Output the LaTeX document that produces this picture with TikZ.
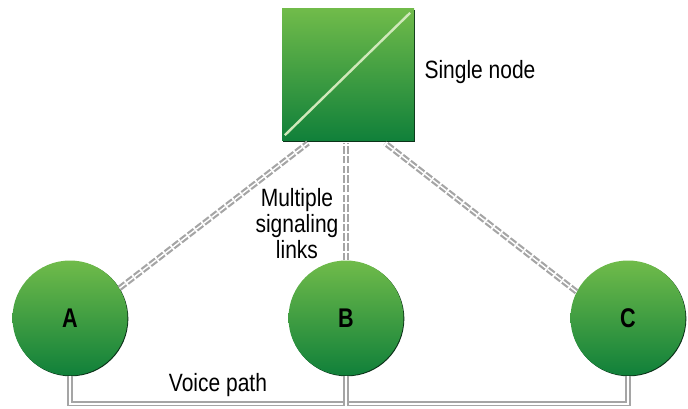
\documentclass[tikz,border=0pt]{standalone}
\usepackage{fontspec}
\setmainfont{Liberation Sans}[FakeStretch=0.84]
\newfontfamily\letterfont{Liberation Sans}[FakeStretch=0.8,BoldFeatures={FakeStretch=0.8}]
\usetikzlibrary{calc,shadows}
\definecolor{gtop}{RGB}{112,187,74}
\definecolor{gbot}{RGB}{16,128,58}
\definecolor{gedge}{RGB}{12,50,25}
\definecolor{linkgray}{RGB}{165,165,165}
\definecolor{diag}{RGB}{208,232,186}
\tikzset{
  x=1pt,y=-1pt,
  station/.style={circle,minimum size=115pt,inner sep=0pt,top color=gtop,bottom color=gbot,
    general shadow={fill=gedge,shadow xshift=.8pt,shadow yshift=-.8pt},
    font=\letterfont\bfseries\fontsize{27}{29}\selectfont,text=black},
  hub/.style={rectangle,minimum size=132pt,inner sep=0pt,top color=gtop,bottom color=gbot,
    general shadow={fill=gedge,shadow xshift=.8pt,shadow yshift=-.8pt}},
  sigline/.style={draw=linkgray,line width=2.2pt,double=white,double distance=1.4pt,dash pattern=on 7.5pt off 2.2pt},
  voice/.style={draw=linkgray,double=white,double distance=1.7pt,line width=1.7pt},
  lbl/.style={font=\fontsize{25}{26}\selectfont,text=black,align=center,inner sep=0pt}
}
\begin{document}
\begin{tikzpicture}
\useasboundingbox (0,0) rectangle (688,409);
\coordinate (hubA) at (308,143);
\coordinate (hubB) at (346,143);
\coordinate (hubC) at (385,143);
\node[hub] (sq) at (348,75) {};
\node[station] (a) at (70,318) {A};
\node[station] (b) at (346,318) {B};
\node[station] (c) at (628,318) {C};
\draw[sigline] (a.31) -- (hubA);
\draw[sigline] (b.north) -- (hubB);
\draw[sigline] (c.153) -- (hubC);
\draw[voice] (a.south) -- ++(0,28) -| (c.south);
\draw[voice] (b.south) -- ++(0,30);
\draw[diag,line width=2.4pt] ($(sq.south west)+(3,-6)$) -- ($(sq.north east)+(-4,4)$);
\node[lbl] (single) at (480,72) {Single node};
\node[lbl] (multi) at (297,224) {Multiple\\signaling\\links};
\node[lbl] (vp) at (218,385) {Voice path};
\end{tikzpicture}
\end{document}
